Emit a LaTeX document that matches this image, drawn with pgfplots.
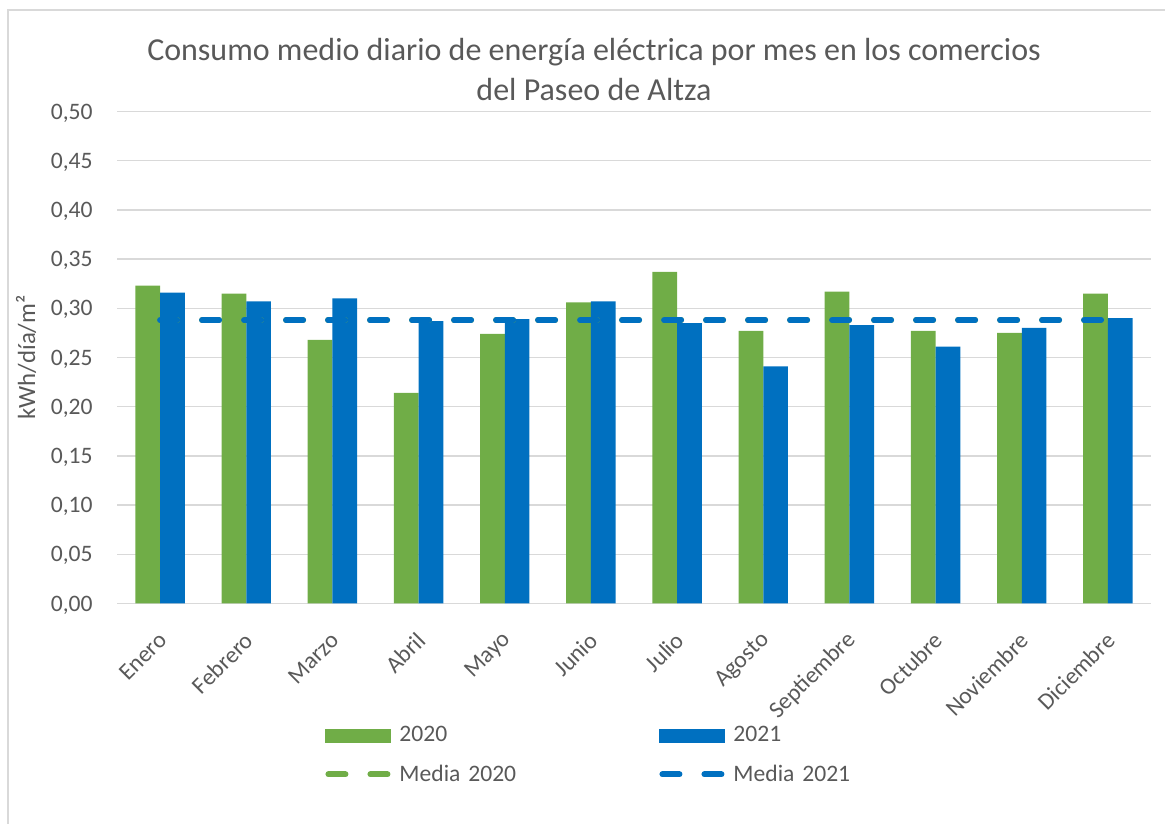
\documentclass[border=0pt]{standalone}
\usepackage{pgfplots}
\usepackage{pgfplotstable}
\pgfplotsset{compat=1.18}
\usepackage{fontspec}
\setmainfont{Carlito}

\definecolor{verde}{HTML}{70AD47}
\definecolor{azul}{HTML}{0070C0}
\definecolor{texto}{HTML}{595959}
\definecolor{rejilla}{HTML}{D9D9D9}

% consumo medio diario (kWh/dia/m2)
\pgfplotstableread{
mes y2020 y2021
0  0.323 0.316
1  0.315 0.307
2  0.268 0.310
3  0.214 0.287
4  0.274 0.289
5  0.306 0.307
6  0.337 0.285
7  0.277 0.241
8  0.317 0.283
9  0.277 0.261
10 0.275 0.280
11 0.315 0.290
}\datos

\begin{document}
\begin{tikzpicture}
  \useasboundingbox (0,0) rectangle (582.5pt,411.5pt);
  \draw[rejilla, line width=0.75pt] (4pt,-5pt) -- (4pt,406.5pt) -- (600pt,406.5pt);
  \node[texto, align=center, font=\fontsize{16}{20}\selectfont] at (297pt,376.5pt)
    {Consumo medio diario de energía eléctrica por mes en los comercios\\del Paseo de Altza};
  \begin{axis}[
      at={(58.5pt,109.75pt)}, anchor=south west,
      scale only axis, width=517pt, height=246pt,
      xmin=-0.5, xmax=11.5, ymin=0, ymax=0.5,
      axis line style={draw=none},
      major tick length=0pt,
      xtick={0,...,11},
      xticklabels={Enero,Febrero,Marzo,Abril,Mayo,Junio,Julio,Agosto,Septiembre,Octubre,Noviembre,Diciembre},
      ytick={0,0.05,0.1,0.15,0.2,0.25,0.3,0.35,0.4,0.45,0.5},
      ymajorgrids,
      major grid style={rejilla, line width=0.75pt},
      /pgf/number format/.cd, fixed, fixed zerofill, precision=2, use comma, assume math mode=true,
      /pgfplots/.cd,
      ticklabel style={texto, font=\fontsize{11.8}{13}\selectfont, inner sep=0pt},
      y tick label style={anchor=base east, xshift=-12pt, yshift=-3.8pt},
      x tick label style={xshift=1.5pt, yshift=-16.5pt, rotate=45, anchor=east},
      ylabel={kWh/día/m²},
      ylabel style={texto, font=\fontsize{12.4}{14}\selectfont, at={(axis description cs:-0.088,0.5)}, rotate=0, anchor=center},
      legend columns=2,
      legend cell align=left,
      legend style={draw=none, fill=none, inner sep=0pt, text=texto,
        font=\fontsize{11.8}{13}\selectfont,
        at={(axis description cs:0.2012,-0.249)}, anchor=north west,
        nodes={text width=130pt, inner sep=0pt, align=left},
        /tikz/every odd column/.append style={column sep=4pt},
        row sep=10pt},
    ]
    \addplot[ybar, bar width=12.35pt, bar shift=-6.175pt, fill=verde, draw=none,
      legend image code/.code={\fill (0pt,-3.5pt) rectangle (33pt,3.5pt);}]
      table[x=mes, y=y2020] {\datos};
    \addlegendentry{2020}
    \addplot[ybar, bar width=12.35pt, bar shift=6.175pt, fill=azul, draw=none,
      legend image code/.code={\fill (0pt,-3.5pt) rectangle (33pt,3.5pt);}]
      table[x=mes, y=y2021] {\datos};
    \addlegendentry{2021}
    \addplot[verde, line width=3pt, line cap=round, dash pattern=on 8.5pt off 12.5pt,
      legend image code/.code={\draw (1.5pt,0pt) -- (31.5pt,0pt);}]
      coordinates {(0,0.288) (11,0.288)};
    \addlegendentry{Media 2020}
    \addplot[azul, line width=3pt, line cap=round, dash pattern=on 8.5pt off 12.5pt,
      legend image code/.code={\draw (1.5pt,0pt) -- (31.5pt,0pt);}]
      coordinates {(0,0.288) (11,0.288)};
    \addlegendentry{Media 2021}
  \end{axis}
\end{tikzpicture}
\end{document}
